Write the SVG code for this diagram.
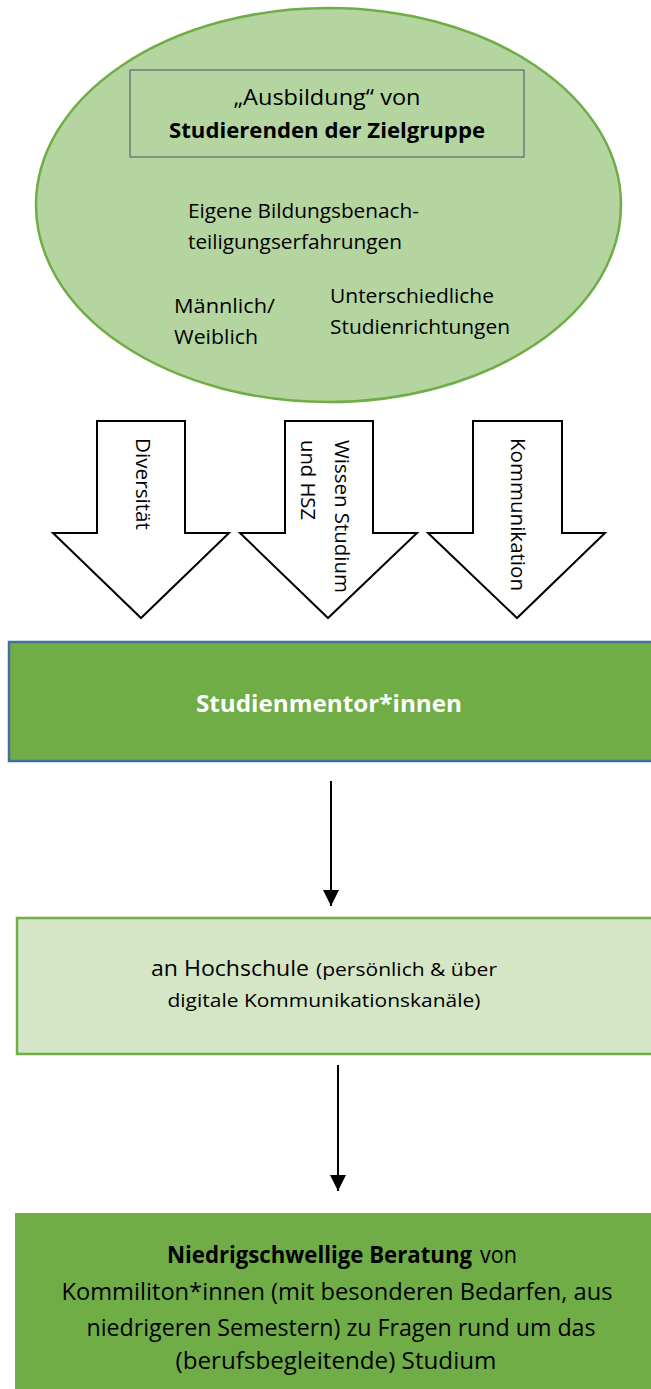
<svg xmlns="http://www.w3.org/2000/svg" width="651" height="1389" viewBox="0 0 651 1389">
<defs>
<style>
text{font-family:"Open Sans","Noto Sans","Liberation Sans",sans-serif;fill:#000}
.c{text-anchor:middle}
.b{font-weight:bold}
.big{stroke:#000;stroke-width:2;fill:#fff;stroke-linejoin:miter}
.conn{stroke:#000;stroke-width:2;fill:none}
</style>
<marker id="ah" markerWidth="8" markerHeight="8" refX="8" refY="4" orient="auto" markerUnits="strokeWidth">
<path d="M0,0 L8,4 L0,8 Z" fill="#000"/>
</marker>
</defs>
<rect width="651" height="1389" fill="#fff"/>

<g id="zielgruppe">
<ellipse cx="328.5" cy="205" rx="292.5" ry="197" fill="#b5d5a0" stroke="#70ad47" stroke-width="2.5"/>
<rect x="130" y="70" width="394" height="87" fill="none" stroke="#44546a" stroke-width="1"/>
<text class="c" x="327" y="105" font-size="21" textLength="187" lengthAdjust="spacingAndGlyphs">„Ausbildung“ von</text>
<text class="c b" x="327" y="138" font-size="22" textLength="316" lengthAdjust="spacingAndGlyphs">Studierenden der Zielgruppe</text>
<text x="188" y="218" font-size="19.5" textLength="231" lengthAdjust="spacingAndGlyphs">Eigene Bildungsbenach-</text>
<text x="188" y="249" font-size="19.5" textLength="214" lengthAdjust="spacingAndGlyphs">teiligungserfahrungen</text>
<text x="174" y="313" font-size="19.5" textLength="101" lengthAdjust="spacingAndGlyphs">Männlich/</text>
<text x="174" y="344" font-size="19.5" textLength="84" lengthAdjust="spacingAndGlyphs">Weiblich</text>
<text x="330" y="303" font-size="19.5" textLength="164" lengthAdjust="spacingAndGlyphs">Unterschiedliche</text>
<text x="330" y="334" font-size="19.5" textLength="180" lengthAdjust="spacingAndGlyphs">Studienrichtungen</text>
</g>

<g id="pfeil-diversitaet">
<polygon class="big" points="97,421 185,421 185,533 229,533 141,618 53,533 97,533"/>
<text transform="translate(136,438) rotate(90)" font-size="20" textLength="92" lengthAdjust="spacingAndGlyphs">Diversität</text>
</g>
<g id="pfeil-wissen">
<polygon class="big" points="285,421 373,421 373,533 417,533 328,618 240,533 285,533"/>
<text transform="translate(335,440) rotate(90)" font-size="20" textLength="153" lengthAdjust="spacingAndGlyphs">Wissen Studium</text>
<text transform="translate(301,440) rotate(90)" font-size="20" textLength="80" lengthAdjust="spacingAndGlyphs">und HSZ</text>
</g>
<g id="pfeil-kommunikation">
<polygon class="big" points="473,421 562,421 562,533 605,533 517,618 428,533 473,533"/>
<text transform="translate(511,438) rotate(90)" font-size="20" textLength="153" lengthAdjust="spacingAndGlyphs">Kommunikation</text>
</g>

<g id="studienmentoren">
<rect x="9" y="642" width="650" height="119" fill="#70ad47" stroke="#41719c" stroke-width="2.5"/>
<text class="c b" x="329" y="712" font-size="23" style="fill:#fff" textLength="266" lengthAdjust="spacingAndGlyphs">Studienmentor*innen</text>
</g>

<g id="hochschule">
<rect x="17" y="918" width="640" height="136" fill="#d4e6c6" stroke="#70ad47" stroke-width="2.5"/>
<text x="151" y="976" font-size="21" textLength="158" lengthAdjust="spacingAndGlyphs">an Hochschule</text>
<text x="316" y="976" font-size="18" textLength="181" lengthAdjust="spacingAndGlyphs">(persönlich &amp; über</text>
<text class="c" x="324" y="1007" font-size="18" textLength="313" lengthAdjust="spacingAndGlyphs">digitale Kommunikationskanäle)</text>
</g>

<g id="beratung">
<rect x="15" y="1213" width="640" height="180" fill="#70ad47"/>
<text class="b" x="167" y="1263" font-size="23.5" textLength="305" lengthAdjust="spacingAndGlyphs">Niedrigschwellige Beratung</text>
<text x="480" y="1263" font-size="23.5" textLength="37" lengthAdjust="spacingAndGlyphs">von</text>
<text class="c" x="337" y="1300" font-size="23.5" textLength="551" lengthAdjust="spacingAndGlyphs">Kommiliton*innen (mit besonderen Bedarfen, aus</text>
<text class="c" x="341" y="1336" font-size="23.5" textLength="509" lengthAdjust="spacingAndGlyphs">niedrigeren Semestern) zu Fragen rund um das</text>
<text class="c" x="336" y="1369" font-size="23.5" textLength="321" lengthAdjust="spacingAndGlyphs">(berufsbegleitende) Studium</text>
</g>

<g id="connectors">
<line class="conn" x1="331" y1="781" x2="331" y2="906" marker-end="url(#ah)"/>
<line class="conn" x1="338" y1="1065" x2="338" y2="1191" marker-end="url(#ah)"/>
</g>
</svg>
